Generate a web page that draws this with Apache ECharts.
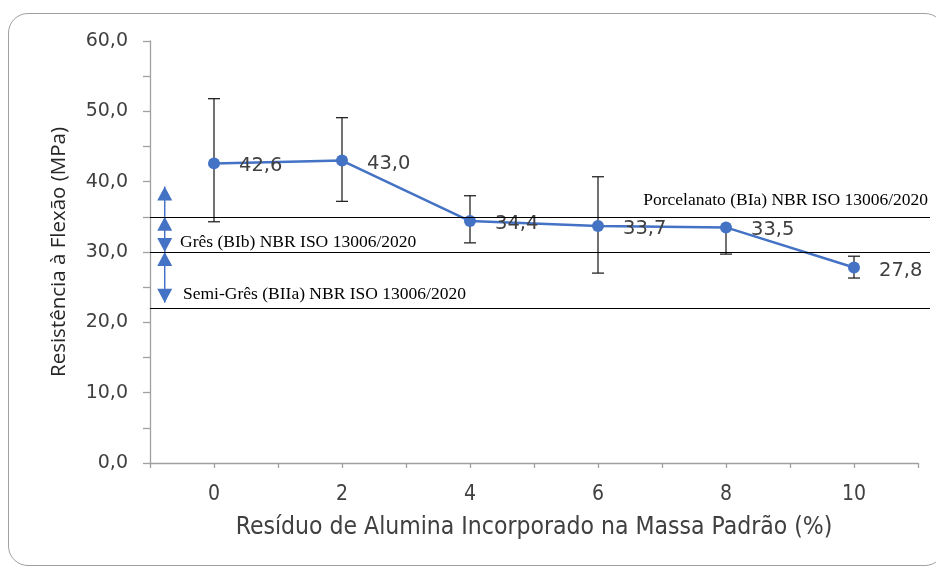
<!DOCTYPE html>
<html>
<head>
<meta charset="utf-8">
<script src="https://cdn.jsdelivr.net/npm/echarts@6/dist/echarts.min.js"></script>
<style>
  html, body { margin: 0; padding: 0; background: #fff; }
  .frame {
    position: absolute; left: 8px; top: 13px; width: 935px; height: 551px;
    border: 1.5px solid #a0a0a0; border-radius: 20px;
  }
  #chart { position: absolute; left: 0; top: 0; width: 936px; height: 566px; }
</style>
</head>
<body>
<div class="frame"></div>
<div id="chart"></div>
<script>
// teor de residuo (%) e resistencia a flexao (MPa)
const residuo = [0, 2, 4, 6, 8, 10]
const resistencia = [42.6, 43.0, 34.4, 33.7, 33.5, 27.8]
const erroSup = [51.8, 49.1, 38.0, 40.7, 33.5, 29.4]
const erroInf = [34.3, 37.2, 31.3, 27.0, 29.7, 26.3]

// limites NBR ISO 13006/2020
const limites = [35, 30, 22]
const limiteNomes = [
  'Porcelanato (BIa) NBR ISO 13006/2020',
  'Grês (BIb) NBR ISO 13006/2020',
  'Semi-Grês (BIIa) NBR ISO 13006/2020'
]
// faixas das setas [inicio, fim, seta no inicio (1/0), seta no fim (1/0)]
const faixas = [
  [35, 39.3, 0, 1],
  [30, 35, 1, 1],
  [22.8, 30, 1, 1]
]

const azul = '#4472c4'
const cinza = '#a0a0a0'
const condensada = '"DejaVu Sans Condensed", "Liberation Sans Narrow", Roboto, sans-serif'
const fmt = v => v.toFixed(1).replace('.', ',')
const setaX = -0.77

const chart = echarts.init(document.getElementById('chart'))

const labelPos = [
  {position: 'insideEndTop', distance: [2, 7]},
  {position: 'insideStartTop', distance: [30, 1]},
  {position: 'insideStartTop', distance: [33, 5]}
]

// triangulo com a ponta em p, apontando para cima (dir -1) ou para baixo (dir 1)
function ponta (p, dir) {
  const w = 7.5, h = 14
  return {
    type: 'polygon',
    shape: {points: [[p[0], p[1]], [p[0] - w, p[1] - dir * h], [p[0] + w, p[1] - dir * h]]},
    style: {fill: azul}
  }
}

chart.setOption({
  animation: false,
  grid: [
    {left: 150, right: 18, top: 41, bottom: 103},
    {left: 150, right: 6, top: 41, bottom: 103}
  ],
  xAxis: [
    {
      type: 'value',
      min: -1,
      max: 11,
      interval: 1,
      name: 'Resíduo de Alumina Incorporado na Massa Padrão (%)',
      nameLocation: 'middle',
      nameGap: 52,
      nameTextStyle: {fontFamily: condensada, fontSize: 24.5, color: '#404040'},
      axisLine: {lineStyle: {color: cinza, width: 1.3}},
      axisTick: {length: 5, lineStyle: {color: cinza, width: 1.3}},
      splitLine: {show: false},
      axisLabel: {
        margin: 21,
        fontFamily: condensada,
        fontSize: 21,
        color: '#404040',
        formatter: v => (v >= 0 && v <= 10 && v % 2 === 0) ? String(v) : ''
      }
    },
    {type: 'value', gridIndex: 1, min: -1, max: 11.1875, show: false}
  ],
  yAxis: [
    {
      type: 'value',
      min: 0,
      max: 60,
      interval: 10,
      name: 'Resistência à Flexão (MPa)',
      nameLocation: 'middle',
      nameGap: 80,
      nameTextStyle: {fontFamily: 'Open Sans', fontSize: 20.5, color: '#262626'},
      axisLine: {show: true, onZero: false, lineStyle: {color: cinza, width: 1.3}},
      axisTick: {show: true, length: 7, lineStyle: {color: cinza, width: 1.3}},
      minorTick: {show: true, splitNumber: 2, length: 7, lineStyle: {color: cinza, width: 1.3}},
      splitLine: {show: false},
      axisLabel: {margin: 22, fontFamily: 'DejaVu Sans', fontSize: 19, color: '#404040', formatter: fmt}
    },
    {type: 'value', gridIndex: 1, min: 0, max: 60, show: false}
  ],
  series: [
    {
      type: 'line',
      xAxisIndex: 1,
      yAxisIndex: 1,
      data: [],
      silent: true,
      markLine: {
        symbol: 'none',
        silent: true,
        animation: false,
        lineStyle: {color: '#000', width: 1.2, type: 'solid'},
        data: limites.map((v, i) => ({
          yAxis: v,
          label: {
            show: true,
            formatter: limiteNomes[i],
            fontFamily: 'Liberation Serif',
            fontSize: 17.5,
            color: '#000',
            ...labelPos[i]
          }
        }))
      }
    },
    {
      // setas das classes
      type: 'custom',
      silent: true,
      data: faixas.map(f => [setaX, f[0], f[1], f[2], f[3]]),
      renderItem: (params, api) => {
        const a = api.coord([api.value(0), api.value(1)])
        const b = api.coord([api.value(0), api.value(2)])
        const children = [{
          type: 'line',
          shape: {x1: a[0], y1: a[1], x2: b[0], y2: b[1]},
          style: {stroke: azul, lineWidth: 1.5}
        }]
        if (api.value(3)) children.push(ponta(a, 1))
        if (api.value(4)) children.push(ponta(b, -1))
        return {type: 'group', children}
      },
      z: 2
    },
    {
      type: 'custom',
      silent: true,
      data: residuo.map((x, i) => [x, erroInf[i], erroSup[i], resistencia[i]]),
      renderItem: (params, api) => {
        const lo = api.coord([api.value(0), api.value(1)])
        const hi = api.coord([api.value(0), api.value(2)])
        const cap = 6
        const style = {stroke: '#262626', lineWidth: 1.3}
        const children = [{type: 'line', shape: {x1: lo[0], y1: lo[1], x2: hi[0], y2: hi[1]}, style}]
        if (api.value(1) !== api.value(3)) {
          children.push({type: 'line', shape: {x1: lo[0] - cap, y1: lo[1], x2: lo[0] + cap, y2: lo[1]}, style})
        }
        if (api.value(2) !== api.value(3)) {
          children.push({type: 'line', shape: {x1: hi[0] - cap, y1: hi[1], x2: hi[0] + cap, y2: hi[1]}, style})
        }
        return {type: 'group', children}
      },
      z: 1
    },
    {
      type: 'line',
      data: residuo.map((x, i) => [x, resistencia[i]]),
      symbol: 'circle',
      symbolSize: 12,
      lineStyle: {color: azul, width: 2.5},
      itemStyle: {color: azul},
      z: 3,
      label: {
        show: true,
        position: 'right',
        distance: 19,
        offset: [0, 3],
        fontFamily: 'DejaVu Sans',
        fontSize: 19.5,
        color: '#404040',
        formatter: p => fmt(p.value[1])
      }
    }
  ]
})
</script>
</body>
</html>
